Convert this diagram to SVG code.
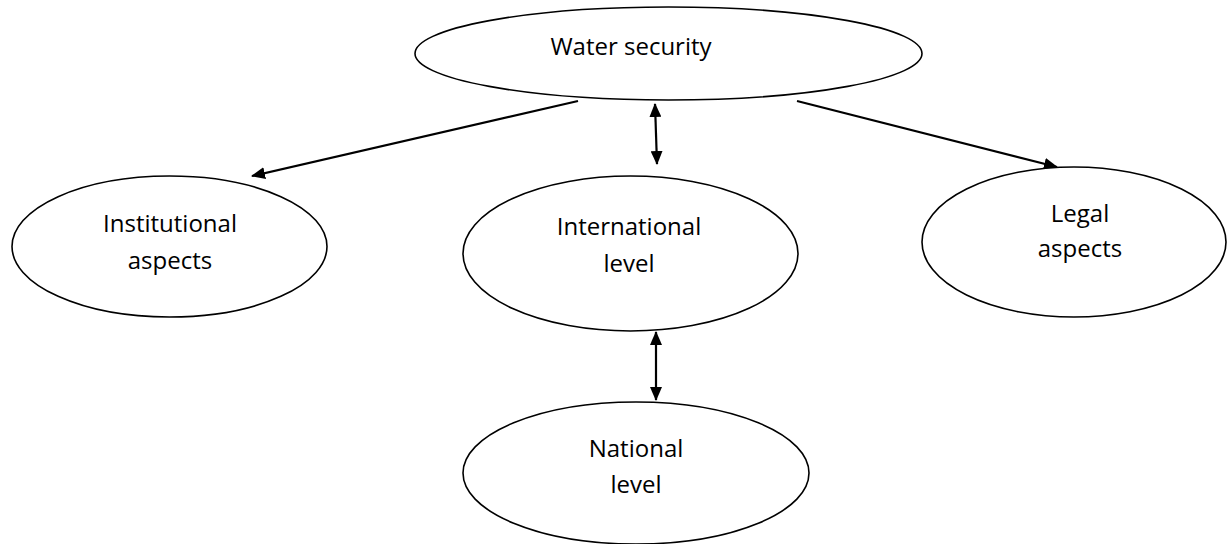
<svg xmlns="http://www.w3.org/2000/svg" width="1227" height="544" viewBox="0 0 1227 544">
  <style>
    .node ellipse { fill: #ffffff; stroke: #000000; stroke-width: 1.6; }
    .node text { font-family: "Open Sans", "Liberation Sans", sans-serif; font-size: 24px; fill: #000000; text-anchor: middle; }
    .conn line { stroke: #000000; stroke-width: 2.2; fill: none; }
  </style>
  <defs>
    <marker id="arrow" viewBox="0 0 14 12" refX="13" refY="6" markerWidth="14" markerHeight="12" markerUnits="userSpaceOnUse" orient="auto-start-reverse">
      <path d="M0,0 L14,6 L0,12 z" fill="#000000"/>
    </marker>
  </defs>
  <rect width="1227" height="544" fill="#ffffff"/>

  <g id="connectors" class="conn">
    <line x1="578" y1="101" x2="252" y2="176" marker-end="url(#arrow)"/>
    <line x1="797" y1="101" x2="1057" y2="167" marker-end="url(#arrow)"/>
    <line x1="655" y1="104" x2="657" y2="164" marker-start="url(#arrow)" marker-end="url(#arrow)"/>
    <line x1="656" y1="332" x2="656" y2="400" marker-start="url(#arrow)" marker-end="url(#arrow)"/>
  </g>

  <g id="node-water-security" class="node">
    <ellipse cx="668.5" cy="53.5" rx="253.5" ry="46.5"/>
    <text x="631" y="55">Water security</text>
  </g>

  <g id="node-institutional" class="node">
    <ellipse cx="169.5" cy="246.5" rx="157.5" ry="70.5"/>
    <text x="170" y="232">Institutional</text>
    <text x="170" y="269">aspects</text>
  </g>

  <g id="node-international" class="node">
    <ellipse cx="630.5" cy="253.5" rx="167.5" ry="77.5"/>
    <text x="629" y="235">International</text>
    <text x="629" y="272">level</text>
  </g>

  <g id="node-legal" class="node">
    <ellipse cx="1074" cy="242" rx="152" ry="75"/>
    <text x="1080" y="222">Legal</text>
    <text x="1080" y="257">aspects</text>
  </g>

  <g id="node-national" class="node">
    <ellipse cx="636" cy="473" rx="173" ry="71"/>
    <text x="636" y="457">National</text>
    <text x="636" y="493">level</text>
  </g>
</svg>
